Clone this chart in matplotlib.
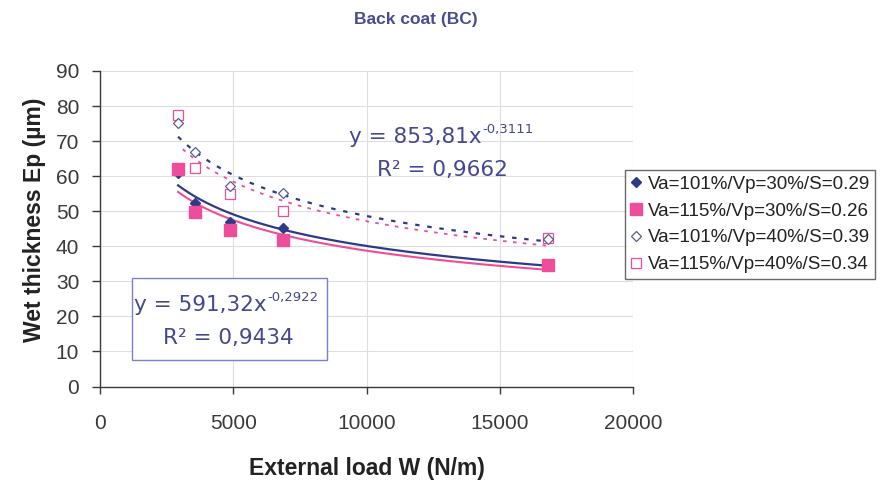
import numpy as np
import matplotlib.pyplot as plt
from matplotlib.patches import Rectangle

plt.rcParams['font.family'] = ['Liberation Sans', 'DejaVu Sans']

# ==================== DATA ====================

load = [2930, 3550, 4880, 6880, 16820]  # external load W (N/m)

ep_101_30 = [61, 52.3, 47.0, 45.1, 34.8]
ep_115_30 = [62.0, 49.9, 44.6, 41.8, 34.7]
ep_101_40 = [75.1, 67.0, 57.2, 55.1, 42.2]
ep_115_40 = [77.4, 62.2, 54.9, 50.1, 42.3]

labels = ['Va=101%/Vp=30%/S=0.29', 'Va=115%/Vp=30%/S=0.26',
          'Va=101%/Vp=40%/S=0.39', 'Va=115%/Vp=40%/S=0.34']

# published power-law fits (y = a * x^b, R^2)
fit_101_30 = (591.32, -0.2922, 0.9434)
fit_101_40 = (853.81, -0.3111, 0.9662)

NAVY = '#2e3a87'
PINK = '#ee4d9b'
TXT = '#45478f'
EQ_FONT = 'DejaVu Sans'


def power_fit(x, y):
    """Least-squares power law in log-log space."""
    b, ln_a = np.polyfit(np.log(x), np.log(y), 1)
    return np.exp(ln_a), b


def comma(v, nd):
    return f'{v:.{nd}f}'.replace('.', ',')


def draw_equation(ax, fit, x_main, y1, x_r2, y2):
    """Trendline label: 'y = a x^b' with a raised exponent, then R^2 below."""
    a, b, r2 = fit
    main = ax.text(x_main, y1, f'y = {comma(a, 2)}x', transform=ax.transAxes,
                   ha='right', va='center', fontsize=15.5, color=TXT,
                   family=EQ_FONT, zorder=6)
    ax.annotate(comma(b, 4), xy=(1, 0.88), xycoords=main, ha='left', va='center',
                fontsize=9.5, color=TXT, family=EQ_FONT, zorder=6)
    ax.text(x_r2, y2, f'R² = {comma(r2, 4)}', transform=ax.transAxes,
            ha='center', va='center', fontsize=15.5, color=TXT, family=EQ_FONT,
            zorder=6)


fig = plt.figure(figsize=(8.84, 4.84), dpi=100)
ax = fig.add_axes([100 / 884, 1 - 386.5 / 484, 533 / 884, 315.5 / 484])

xs = np.linspace(min(load), max(load), 200)

# trend lines
a, b, _ = fit_101_30
ax.plot(xs, a * xs ** b, color=NAVY, lw=1.6, zorder=2)
a2, b2 = power_fit(load, ep_115_30)
ax.plot(xs, a2 * xs ** b2, color=PINK, lw=1.5, zorder=2)
a, b, _ = fit_101_40
ax.plot(xs, a * xs ** b, color=NAVY, lw=1.6, ls=(0, (2, 3.5)), zorder=2)
a4, b4 = power_fit(load, ep_115_40)
ax.plot(xs, a4 * xs ** b4, color=PINK, lw=1.3, ls=(2, (2, 3.5)), zorder=2)

# data points (filled squares sit on top of the small filled diamonds)
ax.plot(load, ep_115_30, 's', ms=9, color=PINK, ls='none', label=labels[1], zorder=3.5)
ax.plot(load, ep_101_30, 'D', ms=5, color=NAVY, ls='none', label=labels[0], zorder=3)
ax.plot(load, ep_115_40, 's', ms=7.5, mfc='white', mec=PINK, mew=0.9,
        ls='none', label=labels[3], zorder=3)
ax.plot(load, ep_101_40, 'D', ms=5.5, mfc='white', mec='#5a5aa0', mew=0.9,
        ls='none', label=labels[2], zorder=4)

ax.set_xlim(0, 20000)
ax.set_ylim(0, 90)
ax.set_xticks(np.arange(0, 20001, 5000))
ax.set_yticks(np.arange(0, 91, 10))
ax.grid(True, color='#dedede', lw=0.8)
ax.set_axisbelow(True)

for side in ['top', 'right']:
    ax.spines[side].set_visible(False)
for side in ['left', 'bottom']:
    ax.spines[side].set_color('#3a3a3a')
    ax.spines[side].set_linewidth(1.0)
ax.tick_params(colors='#3a3a3a', labelsize=15, width=1)
ax.tick_params(axis='y', length=6, pad=9)
ax.tick_params(axis='x', length=5, pad=15)

ax.set_xlabel('External load W (N/m)', fontsize=16.5, fontweight='bold',
              color='#222222', labelpad=17)
ax.set_ylabel('Wet thickness Ep (µm)', fontsize=16.5, fontweight='bold',
              color='#222222', labelpad=7, y=0.528)

fig.text(0.4706, 0.9587, 'Back coat (BC)', ha='center', va='center',
         fontsize=12.5, fontweight='bold', color='#4a4c92')

# equation labels
draw_equation(ax, fit_101_40, 0.7167, 0.7908, 0.6417, 0.6862)
ax.add_patch(Rectangle((0.060, 0.084), 0.366, 0.260, transform=ax.transAxes,
                       fc='white', ec='#7b7fd0', lw=1, zorder=5))
draw_equation(ax, fit_101_30, 0.3133, 0.2583, 0.2402, 0.1537)

handles, lbls = ax.get_legend_handles_labels()
order = [1, 0, 3, 2]
leg = fig.legend([handles[i] for i in order], [lbls[i] for i in order],
                 loc='upper left', bbox_to_anchor=(625 / 884, 1 - 170 / 484),
                 fontsize=13.5, frameon=True, fancybox=False, handlelength=0.55,
                 handletextpad=0.35, borderpad=0.3, labelspacing=0.52,
                 borderaxespad=0)
leg.get_frame().set_edgecolor('#444444')
leg.get_frame().set_linewidth(1.0)
for t in leg.get_texts():
    t.set_color('#222222')

fig.savefig('out.png', dpi=100)
